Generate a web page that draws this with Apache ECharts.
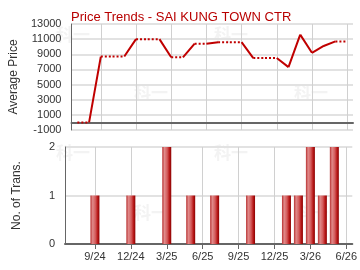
<!DOCTYPE html>
<html>
<head>
<meta charset="utf-8">
<script src="https://cdn.jsdelivr.net/npm/echarts@6/dist/echarts.min.js"></script>
<style>
  html, body { margin: 0; padding: 0; background: #fff; }
  #chart { width: 360px; height: 270px; }
</style>
</head>
<body>
<div id="chart"></div>
<script>
// months shown on the x axis (one category per month)
const months = ['7/24', '8/24', '9/24', '10/24', '11/24', '12/24',
  '1/25', '2/25', '3/25', '4/25', '5/25', '6/25', '7/25', '8/25', '9/25', '10/25', '11/25', '12/25',
  '1/26', '2/26', '3/26', '4/26', '5/26', '6/26'];
// average price per month (carried forward when no deal)
const avgPrice = [0, 0, 8700, 8700, 8700, 11000, 11000, 11000, 8600, 8600, 10400, 10400,
  10600, 10600, 10600, 8500, 8500, 8500, 7300, 11600, 9200, 10100, 10700, 10700];
// number of transactions per month
const trans = [0, 0, 1, 0, 0, 1, 0, 0, 2, 0, 1, 0, 1, 0, 0, 1, 0, 0, 1, 1, 2, 1, 2, 0];

const FONT = 'Liberation Sans, Arial, sans-serif';
const RED = '#c00000';
const showTick = (i) => i % 3 === 2;

// split the price line: solid where it changes, dotted where flat
const solidData = [];
const dottedData = [];
for (let i = 0; i < months.length - 1; i++) {
  const seg = [[i, avgPrice[i]], [i + 1, avgPrice[i + 1]], null];
  if (avgPrice[i] === avgPrice[i + 1]) dottedData.push(...seg);
  else solidData.push(...seg);
}

const chart = echarts.init(document.getElementById('chart'));

// faint watermark
const wm = [[56, 26], [214, 26], [134, 84], [294, 84], [56, 144], [214, 144], [134, 204], [294, 204]];

const option = {
  backgroundColor: '#fff',
  animation: false,
  title: {
    text: 'Price Trends - SAI KUNG TOWN CTR',
    left: 66,
    top: 6,
    textStyle: { color: '#b80000', fontSize: 13, fontWeight: 'normal', fontFamily: FONT }
  },
  graphic: wm.map(p => ({
    type: 'text', left: p[0], top: p[1], z: -10, silent: true,
    style: { text: '科一', fill: '#f3f3f3', font: 'bold 17px "Noto Sans CJK SC"' }
  })),
  grid: [
    { left: 65, right: 7, top: 24, height: 106 },
    { left: 65, right: 7, top: 147, height: 97 }
  ],
  xAxis: [
    {
      type: 'category', gridIndex: 0, data: months, boundaryGap: true,
      axisLine: { lineStyle: { color: '#666', width: 2 } },
      axisTick: { show: false },
      axisLabel: { show: false },
      splitLine: { show: true, interval: (i) => showTick(i), alignWithLabel: true,
        lineStyle: { color: '#d0d0d0', width: 1 } }
    },
    {
      type: 'category', gridIndex: 1, data: months, boundaryGap: true,
      axisLine: { lineStyle: { color: '#666', width: 2 } },
      axisTick: { show: true, alignWithLabel: true, interval: (i) => showTick(i), length: 5,
        lineStyle: { color: '#666' } },
      axisLabel: { interval: (i) => showTick(i), color: '#333', fontSize: 11, fontFamily: FONT, margin: 7 },
      splitLine: { show: true, interval: (i) => showTick(i), alignWithLabel: true,
        lineStyle: { color: '#d0d0d0', width: 1 } }
    }
  ],
  yAxis: [
    {
      type: 'value', gridIndex: 0, min: -1000, max: 13000, interval: 2000,
      name: 'Average Price', nameLocation: 'middle', nameGap: 42,
      nameTextStyle: { color: '#333', fontSize: 12, fontFamily: FONT },
      axisLine: { show: true, lineStyle: { color: '#666', width: 1 } },
      axisTick: { show: false },
      axisLabel: { color: '#333', fontSize: 11, fontFamily: FONT, margin: 10, formatter: (v) => String(v) },
      splitLine: { lineStyle: { color: '#e2e2e2', width: 2 } }
    },
    {
      type: 'value', gridIndex: 1, min: 0, max: 2, interval: 1,
      name: 'No. of Trans.', nameLocation: 'middle', nameGap: 42,
      nameTextStyle: { color: '#333', fontSize: 12, fontFamily: FONT },
      axisLine: { show: true, lineStyle: { color: '#666', width: 1 } },
      axisTick: { show: false },
      axisLabel: { color: '#333', fontSize: 11, fontFamily: FONT, margin: 10, formatter: (v) => String(v) },
      splitLine: { lineStyle: { color: '#e2e2e2', width: 2 } }
    }
  ],
  series: [
    {
      type: 'line', xAxisIndex: 0, yAxisIndex: 0, data: solidData,
      showSymbol: false, connectNulls: false,
      lineStyle: { color: RED, width: 2 }
    },
    {
      type: 'line', xAxisIndex: 0, yAxisIndex: 0, data: dottedData,
      showSymbol: false, connectNulls: false,
      lineStyle: { color: RED, width: 2, type: [2, 2] }
    },
    {
      type: 'bar', xAxisIndex: 1, yAxisIndex: 1, barWidth: 9,
      data: trans.map(v => (v === 0 ? null : v)),
      itemStyle: {
        color: new echarts.graphic.LinearGradient(0, 0, 1, 0, [
          { offset: 0, color: '#b83030' },
          { offset: 0.25, color: '#e08a8a' },
          { offset: 0.55, color: '#d45c5c' },
          { offset: 0.8, color: '#b81818' },
          { offset: 1, color: '#8a0000' }
        ])
      }
    }
  ]
};

chart.setOption(option);
</script>
</body>
</html>
